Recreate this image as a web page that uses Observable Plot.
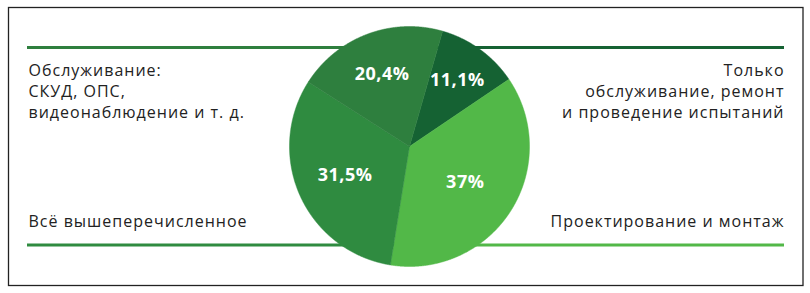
<!DOCTYPE html>
<html>
<head>
<meta charset="utf-8">
<script src="https://cdn.jsdelivr.net/npm/d3@7"></script>
<script src="https://cdn.jsdelivr.net/npm/@observablehq/plot@0.6"></script>
<style>
  html, body { margin: 0; padding: 0; background: #fff; }
  #chart svg { display: block; }
  #chart .cat text, #chart text.cat { letter-spacing: 1px; }
  #chart .pct text, #chart text.pct { letter-spacing: 0.5px; }
</style>
</head>
<body>
<div id="chart"></div>
<script>
// ---- data ----
const categories = [
  "Только\nобслуживание, ремонт\nи проведение испытаний",
  "Проектирование и монтаж",
  "Всё вышеперечисленное",
  "Обслуживание:\nСКУД, ОПС,\nвидеонаблюдение и т. д."
];
const shares = [11.1, 37, 31.5, 20.4];
const shareLabels = ["11,1%", "37%", "31,5%", "20,4%"];
const sliceColors = ["#156233", "#52b848", "#2f8b40", "#2e7f3e"];

// ---- layout ----
const W = 810, H = 293;
const cx = 409, cy = 146, R = 120;
const startDeg = 16;
const font = "Open Sans, sans-serif";

const pie = d3.pie().sort(null).value(d => d.value)
  .startAngle(startDeg * Math.PI / 180)
  .endAngle(startDeg * Math.PI / 180 + 2 * Math.PI);
const rows = categories.map((c, i) => ({cat: c, value: shares[i], label: shareLabels[i], color: sliceColors[i]}));
const arcs = pie(rows);

// polygon outline of each slice
const pts = [];
arcs.forEach((a, i) => {
  pts.push({k: i, x: cx, y: cy, color: a.data.color});
  const n = Math.max(2, Math.ceil((a.endAngle - a.startAngle) / (Math.PI / 720)));
  for (let j = 0; j <= n; j++) {
    const t = a.startAngle + (a.endAngle - a.startAngle) * j / n;
    pts.push({k: i, x: cx + R * Math.sin(t), y: cy - R * Math.cos(t), color: a.data.color});
  }
  pts.push({k: i, x: cx, y: cy, color: a.data.color});
});
// labels at the sector's area centroid, nudged outwards
const labelPts = arcs.map(a => {
  const th = a.endAngle - a.startAngle;
  const r = 2 * R * Math.sin(th / 2) / (1.5 * th) + 3;
  const m = (a.startAngle + a.endAngle) / 2;
  return {x: cx + r * Math.sin(m), y: cy - r * Math.cos(m), label: a.data.label};
});

// guide lines (one per category, by corner)
const corner = [
  {x1: cx, x2: 784, y: 47, side: "right", tx: 784, ty: 61},
  {x1: cx, x2: 784, y: 244.5, side: "right", tx: 784, ty: 212},
  {x1: 27, x2: cx, y: 244.5, side: "left", tx: 28, ty: 212},
  {x1: 27, x2: cx, y: 47, side: "left", tx: 28, ty: 61}
];
const guides = rows.map((r, i) => ({...corner[i], color: r.color, cat: r.cat}));
const textOpts = {x: "tx", y: "ty", text: "cat", lineAnchor: "top", lineHeight: 1.3, fontSize: 16, fill: "#222", fontFamily: font, className: "cat"};

const chart = Plot.plot({
  width: W, height: H,
  margin: 0,
  x: {domain: [0, W], axis: null},
  y: {domain: [0, H], reverse: true, axis: null},
  color: {type: "identity"},
  style: {fontFamily: font, background: "#fff"},
  marks: [
    Plot.frame({stroke: "#222", strokeWidth: 1.3, insetLeft: 8, insetTop: 7, insetRight: 7.5, insetBottom: 8}),
    Plot.ruleY(guides, {y: "y", x1: "x1", x2: "x2", stroke: "color", strokeWidth: 3}),
    Plot.line(pts, {x: "x", y: "y", z: "k", fill: "color", stroke: "color", strokeWidth: 0.5, curve: "linear"}),
    Plot.text(labelPts, {x: "x", y: "y", text: "label", fill: "white", fontSize: 18, fontWeight: 700, fontFamily: font, className: "pct"}),
    Plot.text(guides.filter(d => d.side === "left"), {...textOpts, textAnchor: "start"}),
    Plot.text(guides.filter(d => d.side === "right"), {...textOpts, textAnchor: "end"})
  ]
});
document.getElementById("chart").append(chart);
</script>
</body>
</html>
